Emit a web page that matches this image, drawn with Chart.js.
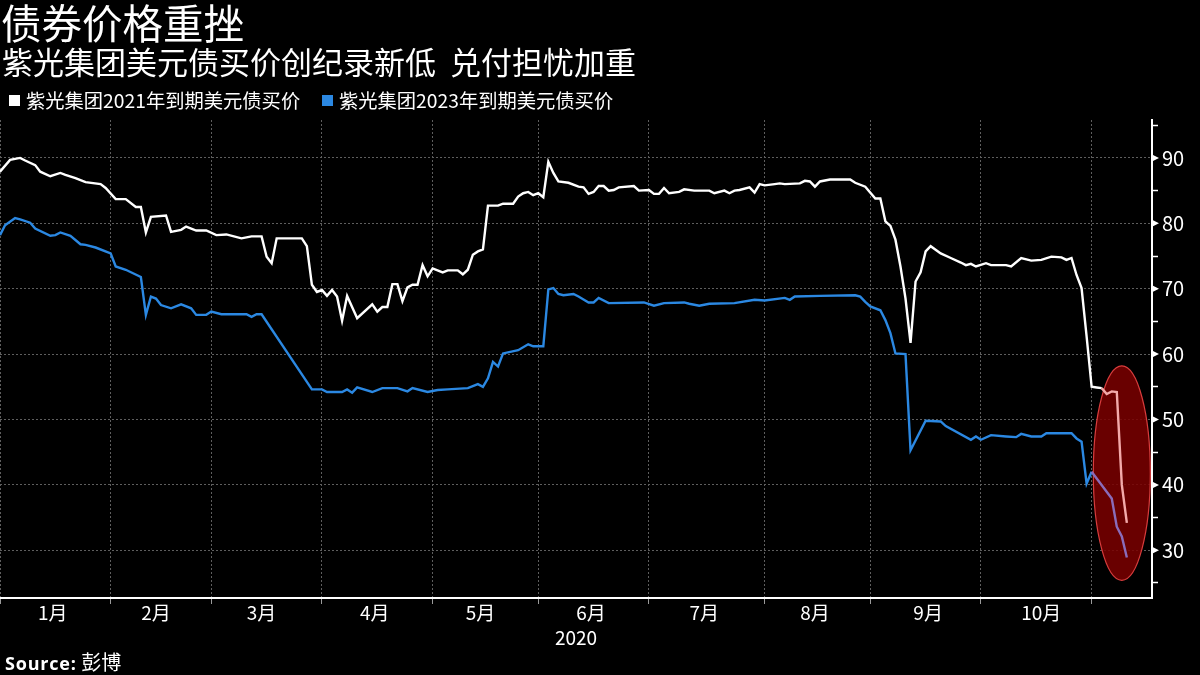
<!DOCTYPE html>
<html>
<head>
<meta charset="utf-8">
<script src="https://cdn.jsdelivr.net/npm/chart.js@4.4.1/dist/chart.umd.min.js"></script>
<style>
html,body{margin:0;padding:0;background:#000;}
#wrap{position:relative;width:1200px;height:675px;overflow:hidden;background:#000;font-family:'Noto Sans CJK SC',sans-serif;color:#fff;}
#c{position:absolute;left:0;top:0;}
.t{position:absolute;white-space:pre;}
#title{left:1px;top:0px;font-size:40.5px;line-height:44px;}
#sub{left:2px;top:44px;font-size:31px;line-height:34px;}
.leg{position:absolute;top:90px;font-size:19.3px;line-height:20px;display:flex;align-items:center;white-space:pre;}
.sw{display:inline-block;width:11px;height:11px;margin-right:6px;}
#src{left:5px;top:652px;font-size:20px;line-height:20px;}
#src b{font-weight:700;font-family:'Open Sans','Noto Sans CJK SC',sans-serif;font-size:18px;letter-spacing:0.8px;}
</style>
</head>
<body>
<div id="wrap">
<canvas id="c" width="1200" height="675"></canvas>
<div class="t" id="title">债券价格重挫</div>
<div class="t" id="sub">紫光集团美元债买价创纪录新低  兑付担忧加重</div>
<div id="legendBox"></div>
<div class="t" id="src"><b>Source:</b> 彭博</div>
</div>
<script>
// ---- data (x = trading-day index from 1 Jan 2020) ----
const seriesNames = ['紫光集团2021年到期美元债买价', '紫光集团2023年到期美元债买价'];

const days2021 = [0,2,4,5,7,8,10,12,13,15,17,20,21,23,25,27,28,29,30,33,34,36,37,39,41,43,45,48,50,52,53,54,55,60,61,62,63,64,65,66,67,68,69,71,74,75,76,77,78,79,80,81,82,83,84,85,86,88,89,91,92,93,94,95,96,97,99,100,102,103,104,105,106,107,108,109,110,111,113,115,116,117,118,119,120,121,122,123,126,127,129,130,131,132,133,135,136,138,141,142,144,145,146,147,149,150,151,152,154,155,156,159,160,161,162,163,165,169,170,172,174,175,176,177,178,179,180,181,182,183,184,185,187,189,191,192,193,194,196,197,200,201,203,205,207,209,211,212,213,214,215,216,217,218,219,220,221,222,223,224];
const price2021 = [87.9,89.7,90.0,89.6,88.9,87.9,87.2,87.7,87.4,86.9,86.3,86.0,85.4,83.7,83.7,82.5,82.5,78.6,81.0,81.2,78.7,79.0,79.5,78.9,78.9,78.2,78.3,77.7,78.0,78.0,74.9,73.9,77.7,77.7,76.5,70.6,69.5,69.8,68.9,69.8,68.8,65.1,68.9,65.5,67.6,66.5,67.2,67.2,70.7,70.7,68.1,70.2,70.6,70.6,73.6,71.9,73.1,72.5,72.8,72.8,72.2,72.9,75.2,75.7,76.0,82.7,82.7,83.0,83.0,84.1,84.6,84.8,84.3,84.6,84.0,89.4,87.7,86.4,86.2,85.6,85.5,84.5,84.8,85.7,85.7,85.0,85.1,85.5,85.7,85.0,85.1,84.5,84.5,85.4,84.6,84.8,85.2,85.0,85.0,84.6,85.0,84.6,85.0,85.1,85.5,84.7,86.0,85.8,86.0,86.1,86.0,86.1,86.5,86.4,85.6,86.4,86.7,86.7,86.2,85.6,83.8,83.8,80.3,79.6,77.5,73.4,68.5,61.7,71.1,72.5,75.7,76.5,75.4,74.7,74.0,73.6,73.8,73.4,73.9,73.6,73.6,73.4,74.7,74.3,74.4,74.9,74.8,74.4,74.7,72.1,70.1,62.7,55.0,54.9,54.8,53.9,54.3,54.2,40.0,34.2];

const days2023 = [0,1,3,4,6,7,10,11,12,14,16,17,19,22,23,25,28,29,30,31,32,34,36,38,39,41,42,44,49,50,51,52,62,64,65,68,69,70,71,74,76,79,81,82,85,87,89,93,95,96,97,98,99,100,103,105,106,108,109,110,111,112,114,115,117,118,119,121,128,130,132,136,137,139,141,146,150,152,156,157,158,163,170,171,172,173,175,176,177,178,180,181,184,187,188,193,194,195,197,200,202,203,205,207,208,213,214,215,216,217,221,222,223,224];
const price2023 = [78.2,79.7,80.8,80.6,80.1,79.2,78.1,78.2,78.6,78.1,76.8,76.7,76.3,75.4,73.4,72.9,71.8,66.0,68.8,68.5,67.5,67.0,67.6,67.0,66.0,66.0,66.5,66.1,66.1,65.7,66.1,66.1,54.6,54.6,54.2,54.2,54.6,54.1,54.9,54.2,54.8,54.8,54.3,54.8,54.2,54.5,54.6,54.8,55.4,55.0,56.3,58.8,58.1,60.1,60.6,61.5,61.2,61.2,69.9,70.1,69.2,69.0,69.2,68.8,67.9,67.9,68.6,67.8,67.9,67.4,67.8,67.9,67.7,67.4,67.7,67.8,68.3,68.2,68.6,68.3,68.8,68.9,69.0,68.8,68.0,67.3,66.7,65.2,63.2,60.1,60.0,45.3,49.8,49.7,49.0,46.9,47.4,46.9,47.6,47.4,47.3,47.8,47.4,47.4,47.9,47.9,47.1,46.6,40.2,42.0,37.9,33.6,32.1,28.9];

// x-axis: month starts (trading-day index), label positions and texts
const monthStarts = [0,22,42,64,86,107,129,152,173,195,217];
const monthLabelPos = [10.5,31,52,74.5,95.5,117.5,140,162,184.5,207];
const monthLabels = ['1月','2月','3月','4月','5月','6月','7月','8月','9月','10月'];
const yearLabel = '2020';
// y-axis ticks
const yTickValues = [25,30,35,40,45,50,55,60,65,70,75,80,85,90,95];
const yMajor = [30,40,50,60,70,80,90];
// highlight ellipse (data units)
const highlight = {cx:223.0, cy:41.8, rx:5.67, ry:16.4};

// ---- styling ----
const FONT = "'Noto Sans CJK SC', sans-serif";
const WHITE = '#ffffff', BLUE = '#2b88e2';
const GRID = '#5e5e5e';

// legend
const lb = document.getElementById('legendBox');
[[9, WHITE],[322, BLUE]].forEach((p,i)=>{
  const d = document.createElement('div');
  d.className = 'leg'; d.style.left = p[0]+'px';
  d.innerHTML = '<span class="sw" style="background:'+p[1]+'"></span>' + seriesNames[i];
  lb.appendChild(d);
});

function inside(x, y){
  const dx = (x - highlight.cx)/highlight.rx, dy = (y - highlight.cy)/highlight.ry;
  return dx*dx + dy*dy < 1;
}
function segColor(normal, tinted){
  return ctx => {
    const mx = (ctx.p0.parsed.x + ctx.p1.parsed.x)/2, my = (ctx.p0.parsed.y + ctx.p1.parsed.y)/2;
    return inside(mx, my) ? tinted : normal;
  };
}

const ellipsePlugin = {
  id:'ellipse',
  beforeDatasetsDraw(chart){
    const {ctx, scales:{x, y}} = chart;
    const cx = x.getPixelForValue(highlight.cx), cy = y.getPixelForValue(highlight.cy);
    const rx = Math.abs(x.getPixelForValue(highlight.cx + highlight.rx) - cx);
    const ry = Math.abs(y.getPixelForValue(highlight.cy + highlight.ry) - cy);
    ctx.save();
    ctx.beginPath();
    ctx.ellipse(cx, cy, rx, ry, 0, 0, Math.PI*2);
    ctx.fillStyle = 'rgba(122,0,0,0.86)';
    ctx.fill();
    ctx.lineWidth = 1.2;
    ctx.strokeStyle = '#d83c3c';
    ctx.stroke();
    ctx.restore();
  },
  afterDraw(chart){
    const {ctx, scales:{y}} = chart;
    ctx.save();
    ctx.fillStyle = '#fff';
    yMajor.forEach(v=>{
      const py = y.getPixelForValue(v);
      const x0 = y.left;
      ctx.beginPath();
      ctx.moveTo(x0, py-3.5);
      ctx.lineTo(x0+7, py);
      ctx.lineTo(x0, py+3.5);
      ctx.closePath();
      ctx.fill();
    });
    ctx.restore();
  }
};

const xTicksAll = monthStarts.concat(monthLabelPos).sort((a,b)=>a-b);

new Chart(document.getElementById('c'), {
  type:'line',
  data:{
    datasets:[
      {label:seriesNames[0], data:days2021.map((d,i)=>({x:d, y:price2021[i]})),
       borderColor:WHITE, borderWidth:2.4, pointRadius:0, tension:0,
       segment:{borderColor:segColor(WHITE,'#f3aaaa')}},
      {label:seriesNames[1], data:days2023.map((d,i)=>({x:d, y:price2023[i]})),
       borderColor:BLUE, borderWidth:2.4, pointRadius:0, tension:0,
       segment:{borderColor:segColor(BLUE,'#8a6cba')}}
    ]
  },
  options:{
    responsive:false, animation:false, devicePixelRatio:1,
    layout:{padding:{top:120,left:0,right:0,bottom:0}},
    plugins:{legend:{display:false}, tooltip:{enabled:false}},
    scales:{
      x:{
        type:'linear', min:0, max:229, position:'bottom',
        afterBuildTicks: s => { s.ticks = xTicksAll.map(v=>({value:v})); },
        afterFit: s => { s.height = 77; },
        ticks:{autoSkip:false, maxRotation:0, minRotation:0, color:'#fff',
          font:{family:FONT, size:19}, padding:-3,
          callback: v => { const i = monthLabelPos.indexOf(v); return i>=0 ? monthLabels[i] : ''; }},
        grid:{
          color: c => (c.tick && monthStarts.includes(c.tick.value)) ? GRID : 'rgba(0,0,0,0)',
          lineWidth:1, drawTicks:true, tickLength:6,
          tickColor: c => (c.tick && monthStarts.includes(c.tick.value)) ? '#9a9a9a' : 'rgba(0,0,0,0)'
        },
        border:{display:true, color:'#fff', width:2, dash:[2,2]},
        title:{display:true, text:yearLabel, color:'#fff', font:{family:FONT, size:19}, padding:{top:0, bottom:26}}
      },
      y:{
        type:'linear', position:'right', min:22.7, max:95.8,
        afterBuildTicks: s => { s.ticks = yTickValues.map(v=>({value:v})); },
        afterFit: s => { s.width = 48; },
        ticks:{color:'#fff', font:{family:FONT, size:20}, padding:4,
          callback: v => yMajor.includes(v) ? String(v) : ''},
        grid:{
          color: c => (c.tick && yMajor.includes(c.tick.value)) ? GRID : 'rgba(0,0,0,0)',
          lineWidth:1, drawTicks:true, tickLength:6, tickWidth:1.5,
          tickColor: c => (c.tick && yMajor.includes(c.tick.value)) ? 'rgba(0,0,0,0)' : '#fff'
        },
        border:{display:true, color:'#fff', width:2, dash:[2,2]}
      }
    }
  },
  plugins:[ellipsePlugin]
});
</script>
</body>
</html>
